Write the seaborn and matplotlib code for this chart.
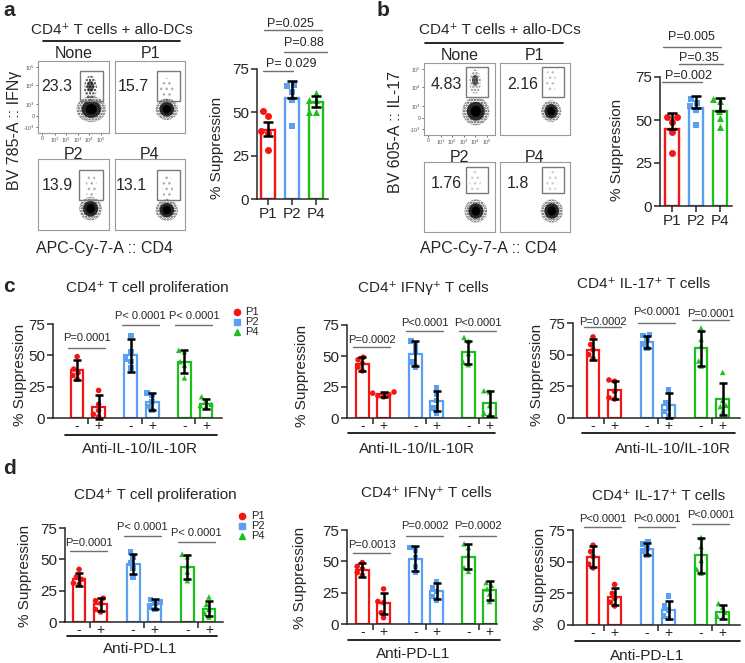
import numpy as np
import pandas as pd
import matplotlib
matplotlib.use("Agg")
import matplotlib.pyplot as plt
import seaborn as sns
from matplotlib.patches import Rectangle, Ellipse
from matplotlib.lines import Line2D

# ---------------- data ----------------
groups = ["P1", "P2", "P4"]
conds = ["-", "+"]
colors = {"P1": "#f41414", "P2": "#5a9ff0", "P4": "#1dbf1d"}
markers = {"P1": "o", "P2": "s", "P4": "^"}

# panel a (IFNy)
a_means = [40, 58, 56]
a_err_lo = [3.5, 0, 3]
a_err_hi = [4.5, 10, 3.5]
a_points = {"P1": [51, 48, 39, 38, 28], "P2": [66, 65, 62, 57, 42], "P4": [61, 57, 57, 50, 50]}
a_pvals = ["P= 0.029", "P=0.88", "P=0.025"]

# panel b (IL-17)
b_means = [45, 57, 55]
b_err_lo = [0, 0, 0]
b_err_hi = [9, 7, 8]
b_points = {"P1": [52, 52, 49, 43, 31], "P2": [62, 60, 58, 56, 47], "P4": [62, 61, 55, 51, 46]}
b_pvals = ["P=0.002", "P=0.35", "P=0.005"]

flow_titles = ["None", "P1", "P2", "P4"]
flow_a_values = ["23.3", "15.7", "13.9", "13.1"]
flow_b_values = ["4.83", "2.16", "1.76", "1.8"]

# panel c (anti-IL-10/IL-10R), bar order: P1-, P1+, P2-, P2+, P4-, P4+
c_prolif_means = [38, 9, 50, 13, 45, 11]
c_prolif_err = [8, 9.5, 13, 7, 9, 4]
c_prolif_points = [[49, 39, 36, 34, 31], [22, 11, 6, 3, 1], [66, 53, 47, 45, 40],
                   [20, 18, 13, 9, 6], [54, 53, 45, 42, 32], [17, 14, 11, 10, 9]]
c_prolif_p = ["P=0.0001", "P< 0.0001", "P< 0.0001"]

c_ifng_means = [43.5, 19, 52, 14, 53, 12]
c_ifng_err = [5.5, 2, 10, 8, 9.5, 10]
c_ifng_points = [[49, 47, 44, 41, 38], [21, 20, 19, 18, 17], [62, 59, 54, 45, 41],
                 [24, 19, 14, 8, 4], [65, 62, 52, 45, 43], [22, 21, 10, 4, 3]]
c_ifng_p = ["P=0.0002", "P<0.0001", "P<0.0001"]

c_il17_means = [54, 22, 60, 10, 55, 15]
c_il17_err = [8, 7, 5, 10, 14, 12.5]
c_il17_points = [[64, 58, 54, 50, 47], [30, 29, 21, 16, 15], [66, 65, 62, 58, 55],
                 [22, 12, 8, 5, 2], [71, 62, 57, 45, 41], [36, 14, 10, 9, 5]]
c_il17_p = ["P=0.0002", "P<0.0001", "P=0.0001"]

# panel d (anti-PD-L1)
d_prolif_means = [34, 14, 46, 14, 44, 10.5]
d_prolif_err = [5, 5, 8, 4, 9.5, 6]
d_prolif_points = [[42, 36, 34, 31, 30], [19, 17, 15, 10, 8], [56, 52, 47, 43, 36],
                   [18, 16, 15, 12, 10], [54, 52, 45, 40, 33], [20, 14, 10, 7, 4]]
d_prolif_p = ["P=0.0001", "P< 0.0001", "P< 0.0001"]

d_ifng_means = [43, 16.5, 52, 26.5, 53.5, 27]
d_ifng_err = [5.3, 8.5, 10, 6.5, 10, 7.5]
d_ifng_points = [[49, 46, 44, 41, 39], [28, 18, 17, 9, 5], [61, 59, 53, 46, 41],
                 [34, 29, 26, 22, 19], [64, 61, 55, 45, 42], [33, 31, 28, 24, 18]]
d_ifng_p = ["P=0.0013", "P=0.0002", "P=0.0002"]

d_il17_means = [54, 22.5, 60, 12, 55, 10]
d_il17_err = [8, 7, 5, 7, 14, 5.5]
d_il17_points = [[63, 58, 54, 48, 45], [32, 25, 21, 18, 15], [66, 64, 61, 58, 55],
                 [23, 15, 12, 7, 5], [69, 62, 51, 44, 41], [17, 14, 10, 7, 6]]
d_il17_p = ["P<0.0001", "P<0.0001", "P<0.0001"]

# ---------------- style ----------------
sns.set_theme(style="ticks")
plt.rcParams["font.family"] = ["Liberation Sans", "DejaVu Sans"]
plt.rcParams["axes.linewidth"] = 1.1
plt.rcParams["xtick.major.width"] = 1.1
plt.rcParams["ytick.major.width"] = 1.1
plt.rcParams["hatch.linewidth"] = 1.2

W, H = 745, 663
fig = plt.figure(figsize=(W / 100, H / 100), dpi=100)


def px_axes(l, t, r, b):
    return fig.add_axes([l / W, 1 - b / H, (r - l) / W, (b - t) / H])


def ftext(x, y, s, **kw):
    kw.setdefault("ha", "center")
    kw.setdefault("va", "center")
    fig.text(x / W, 1 - y / H, s, **kw)


def fline(x0, x1, y, color="black", lw=1.2):
    fig.add_artist(Line2D([x0 / W, x1 / W], [1 - y / H, 1 - y / H], color=color, lw=lw,
                          transform=fig.transFigure))


def style_yaxis(ax):
    ax.set_ylim(0, 75)
    ax.set_yticks([0, 25, 50, 75])
    ax.tick_params(axis="y", labelsize=11, length=4, pad=1.5, direction="out")
    ax.set_ylabel("")
    ax.set_xlabel("")
    sns.despine(ax=ax)


def single_panel(ax, means, lo, hi, points, xlim):
    bars = pd.DataFrame({"group": groups, "val": means})
    sns.barplot(data=bars, x="group", y="val", hue="group", order=groups, hue_order=groups,
                palette=colors, fill=False, width=0.6, linewidth=1.7, errorbar=None,
                legend=False, ax=ax)
    for g in groups:
        pts = pd.DataFrame({"group": g, "val": points[g]})
        sns.swarmplot(data=pts, x="group", y="val", order=groups, color=colors[g],
                      marker=markers[g], size=5, linewidth=0, ax=ax, zorder=2, clip_on=False)
    xs = sorted(p.get_x() + p.get_width() / 2 for p in ax.patches)
    ax.errorbar(xs, means, yerr=[lo, hi], fmt="none", ecolor="black", elinewidth=1.8,
                capsize=3.5, capthick=1.8, zorder=5)
    style_yaxis(ax)
    ax.set_xlim(*xlim)
    ax.tick_params(axis="x", labelsize=11, length=4, pad=1.5)
    return xs


def pair_panel(ax, means, errs, points, pvals, p_pos, xlim):
    rows = []
    for i, g in enumerate(groups):
        for j, c in enumerate(conds):
            for v in points[2 * i + j]:
                rows.append((g, c, v))
    pts = pd.DataFrame(rows, columns=["group", "cond", "val"])
    bars = pd.DataFrame({"group": np.repeat(groups, 2), "cond": conds * 3, "val": means})
    for g in groups:
        sns.barplot(data=bars[bars.group == g], x="group", y="val", hue="cond", order=groups,
                    hue_order=conds, palette=[colors[g]] * 2, fill=False, width=0.8, gap=0.41,
                    linewidth=1.6, errorbar=None, legend=False, ax=ax)
    for g in groups:
        sns.swarmplot(data=pts[pts.group == g], x="group", y="val", hue="cond", order=groups,
                      hue_order=conds, dodge=True, palette=[colors[g]] * 2, marker=markers[g],
                      size=4, linewidth=0, legend=False, ax=ax, zorder=2, clip_on=False)
    xs = sorted(p.get_x() + p.get_width() / 2 for p in ax.patches)
    ax.errorbar(xs, means, yerr=errs, fmt="none", ecolor="black", elinewidth=1.8,
                capsize=3.2, capthick=1.8, zorder=5, clip_on=False)
    style_yaxis(ax)
    ax.set_xlim(*xlim)
    ax.set_xticks([0, 1, 2])
    ax.set_xticklabels([])
    ax.tick_params(axis="x", which="major", length=4)
    ax.set_xticks(xs, minor=True)
    ax.set_xticklabels(conds * 3, minor=True)
    ax.tick_params(axis="x", which="minor", length=0, labelsize=10, pad=1)
    for i, (txt, (ty, ly)) in enumerate(zip(pvals, p_pos)):
        x0, x1 = xs[2 * i] - 0.17, xs[2 * i + 1] + 0.12
        ax.plot([x0, x1], [ly, ly], color="#707070", lw=1.0, clip_on=False)
        ax.text((x0 + x1) / 2, ty, txt, ha="center", va="center", fontsize=8, clip_on=False)
    return xs


def flow_panel(ax, value, gate, num_xy, main, pop, ticks=False):
    ax.set_xlim(0, 1)
    ax.set_ylim(0, 1)
    for s in ax.spines.values():
        s.set_color("#9a9a9a")
        s.set_linewidth(0.8)
    cx, cy, w, h = main
    ax.add_patch(Ellipse((cx, cy), w * 1.6, h * 1.5, fill=False, hatch="......",
                         ec="#4a4a4a", lw=0))
    ax.add_patch(Ellipse((cx, cy), w * 1.05, h * 1.0, color="#111111", alpha=0.85, lw=0))
    ax.add_patch(Ellipse((cx, cy), w * 0.6, h * 0.6, color="black", lw=0))
    gx, gy, gw, gh, ga = pop
    ax.add_patch(Ellipse((gx, gy), gw, gh, fill=False, hatch="....." if ga > 0.3 else "...",
                         ec=(0, 0, 0, ga), lw=0))
    if ga > 0.3:
        ax.add_patch(Ellipse((gx, gy + 0.02), gw * 0.55, gh * 0.45, color="black",
                             alpha=0.6, lw=0))
    x0, x1, y0, y1 = gate
    ax.add_patch(Rectangle((x0, y0), x1 - x0, y1 - y0, fill=False, ec="#7a7a7a", lw=1.0))
    ax.text(num_xy[0], num_xy[1], value, ha="center", va="center", fontsize=11.5)
    if ticks:
        ax.set_xticks([0.06, 0.24, 0.4, 0.56, 0.72, 0.89])
        ax.set_xticklabels(["0", "10$^1$", "10$^2$", "10$^3$", "10$^4$", "10$^5$"])
        ax.set_yticks([0.08, 0.24, 0.4, 0.67, 0.92])
        ax.set_yticklabels(["-10$^3$", "0", "10$^3$", "10$^4$", "10$^5$"])
        ax.tick_params(labelsize=3.8, length=1.5, width=0.6, pad=0.5, colors="#555555")
    else:
        ax.set_xticks([])
        ax.set_yticks([])


# ---------------- panel a ----------------
ftext(9, 11, "a", fontsize=15, fontweight="bold")
ftext(112, 30, "CD4⁺ T cells + allo-DCs", fontsize=11)
fline(43, 180, 41)
cols_a = [(38, 109), (115, 185)]
rows_a = [(61, 133), (159, 230)]
gates_a = [(0.59, 0.92, 0.44, 0.86), (0.60, 0.93, 0.44, 0.86), (0.58, 0.92, 0.42, 0.85), (0.60, 0.93, 0.42, 0.85)]
nums_a = [(0.27, 0.64), (0.26, 0.64), (0.27, 0.63), (0.24, 0.63)]
mains_a = [(0.75, 0.33, 0.26, 0.24), (0.74, 0.33, 0.2, 0.2), (0.74, 0.3, 0.2, 0.22), (0.74, 0.28, 0.2, 0.2)]
pops_a = [(0.74, 0.63, 0.18, 0.34, 0.8), (0.74, 0.6, 0.2, 0.32, 0.25), (0.75, 0.6, 0.16, 0.36, 0.25), (0.75, 0.6, 0.16, 0.36, 0.25)]
for k in range(4):
    (l, r), (t, b) = cols_a[k % 2], rows_a[k // 2]
    ax = px_axes(l, t, r, b)
    flow_panel(ax, flow_a_values[k], gates_a[k], nums_a[k], mains_a[k], pops_a[k], ticks=(k == 0))
    ftext((l + r) / 2, t - (8 if k < 2 else 5), flow_titles[k], fontsize=11.5)
ftext(15, 130, "BV 785-A :: IFNγ", fontsize=11.5, rotation=90)
ftext(105, 248, "APC-Cy-7-A :: CD4", fontsize=11.5)

ax_a = px_axes(257, 69, 328, 199)
single_panel(ax_a, a_means, a_err_lo, a_err_hi, a_points, (-0.46, 2.5))
ftext(217, 148, "% Suppression", fontsize=11, rotation=90)
for txt, x0, x1, ly, tx, ty in zip(a_pvals, [-0.21, 0.67, -0.17], [1.04, 2.46, 2.25],
                                   [74, 84.8, 97.5], [0.95, 1.5, 0.92], [78, 90, 101]):
    ax_a.plot([x0, x1], [ly, ly], color="#707070", lw=1.0, clip_on=False)
    ax_a.text(tx, ty, txt, ha="center", va="center", fontsize=9, clip_on=False)

# ---------------- panel b ----------------
ftext(383, 11, "b", fontsize=15, fontweight="bold")
ftext(500, 30, "CD4⁺ T cells + allo-DCs", fontsize=11)
fline(425, 563, 43)
cols_b = [(424, 495), (500, 570)]
rows_b = [(63, 135), (162, 232)]
gates_b = [(0.59, 0.90, 0.53, 0.94), (0.60, 0.92, 0.53, 0.94), (0.59, 0.90, 0.56, 0.93), (0.60, 0.92, 0.56, 0.93)]
nums_b = [(0.32, 0.70), (0.33, 0.70), (0.32, 0.70), (0.26, 0.70)]
mains_b = [(0.73, 0.33, 0.24, 0.26), (0.73, 0.33, 0.18, 0.2), (0.73, 0.3, 0.2, 0.22), (0.74, 0.3, 0.2, 0.22)]
pops_b = [(0.72, 0.74, 0.16, 0.34, 0.45), (0.72, 0.74, 0.16, 0.34, 0.2), (0.72, 0.72, 0.16, 0.32, 0.15), (0.74, 0.72, 0.16, 0.32, 0.15)]
for k in range(4):
    (l, r), (t, b) = cols_b[k % 2], rows_b[k // 2]
    ax = px_axes(l, t, r, b)
    flow_panel(ax, flow_b_values[k], gates_b[k], nums_b[k], mains_b[k], pops_b[k], ticks=(k == 0))
    ftext((l + r) / 2, t - (8 if k < 2 else 5), flow_titles[k], fontsize=11.5)
ftext(396, 132, "BV 605-A :: IL-17", fontsize=11.5, rotation=90)
ftext(488, 248, "APC-Cy-7-A :: CD4", fontsize=11.5)

ax_b = px_axes(660, 77, 732, 206)
single_panel(ax_b, b_means, b_err_lo, b_err_hi, b_points, (-0.5, 2.5))
ftext(617, 150, "% Suppression", fontsize=11, rotation=90)
for txt, x0, x1, ly, tx, ty in zip(b_pvals, [-0.42, 0.29, -0.37], [1.25, 2.13, 2.04],
                                   [72, 82.6, 92.4], [0.67, 1.13, 0.83], [75.6, 86, 98.3]):
    ax_b.plot([x0, x1], [ly, ly], color="#707070", lw=1.0, clip_on=False)
    ax_b.text(tx, ty, txt, ha="center", va="center", fontsize=9, clip_on=False)

# ---------------- panel c ----------------
ftext(9, 287, "c", fontsize=15, fontweight="bold")
c_specs = [
    ((53, 324, 222, 418), (-0.65, 2.5), c_prolif_means, c_prolif_err, c_prolif_points, c_prolif_p,
     [(64, 56), (81, 74), (81, 74)], "CD4⁺ T cell proliferation", (147, 288), 20,
     (65, 217, 435), (140, 449)),
    ((347, 325, 497, 418), (-0.49, 2.34), c_ifng_means, c_ifng_err, c_ifng_points, c_ifng_p,
     [(63, 57), (77, 70), (77, 70)], "CD4⁺ IFNγ⁺ T cells", (423, 288), 302,
     (348, 495, 433), (417, 449)),
    ((573, 323, 740, 418), (-0.57, 2.52), c_il17_means, c_il17_err, c_il17_points, c_il17_p,
     [(76, 72), (84, 75), (82, 77)], "CD4⁺ IL-17⁺ T cells", (644, 284), 537,
     (582, 735, 433), (673, 449)),
]
for (box, xlim, m, e, p, pv, ppos, title, tpos, ylx, uline, ltxt) in c_specs:
    ax = px_axes(*box)
    pair_panel(ax, m, e, p, pv, ppos, xlim)
    ftext(tpos[0], tpos[1], title, fontsize=11)
    ftext(ylx, (box[1] + box[3]) / 2 + 4, "% Suppression", fontsize=11, rotation=90)
    fline(uline[0], uline[1], uline[2])
    ftext(ltxt[0], ltxt[1], "Anti-IL-10/IL-10R", fontsize=11)

# ---------------- panel d ----------------
ftext(10, 468, "d", fontsize=15, fontweight="bold")
d_specs = [
    ((65, 528, 223, 622), (-0.46, 2.46), d_prolif_means, d_prolif_err, d_prolif_points, d_prolif_p,
     [(63, 57), (76, 69), (71, 64)], "CD4⁺ T cell proliferation", (155, 495), 25,
     (67, 217, 636), (140, 649)),
    ((347, 530, 497, 624), (-0.49, 2.34), d_ifng_means, d_ifng_err, d_ifng_points, d_ifng_p,
     [(63, 57), (78, 70), (78, 70)], "CD4⁺ IFNγ⁺ T cells", (426, 493), 300,
     (348, 500, 640), (413, 654)),
    ((573, 530, 740, 625), (-0.57, 2.52), d_il17_means, d_il17_err, d_il17_points, d_il17_p,
     [(84, 77), (84, 77), (87, 80)], "CD4⁺ IL-17⁺ T cells", (659, 496), 540,
     (575, 740, 641), (647, 656)),
]
for (box, xlim, m, e, p, pv, ppos, title, tpos, ylx, uline, ltxt) in d_specs:
    ax = px_axes(*box)
    pair_panel(ax, m, e, p, pv, ppos, xlim)
    ftext(tpos[0], tpos[1], title, fontsize=11)
    ftext(ylx, (box[1] + box[3]) / 2 + 1, "% Suppression", fontsize=11, rotation=90)
    fline(uline[0], uline[1], uline[2])
    ftext(ltxt[0], ltxt[1], "Anti-PD-L1", fontsize=11)

# ---------------- legends ----------------
for (mx, lx, ys) in [(237, 245, [312, 322, 332]), (242, 251, [516, 526, 536])]:
    for g, y in zip(groups, ys):
        fig.add_artist(Line2D([mx / W], [1 - y / H], marker=markers[g], color=colors[g],
                              markersize=4.5, lw=0, transform=fig.transFigure))
        ftext(lx, y, g, fontsize=8, ha="left")

fig.savefig("out.png", dpi=100)
